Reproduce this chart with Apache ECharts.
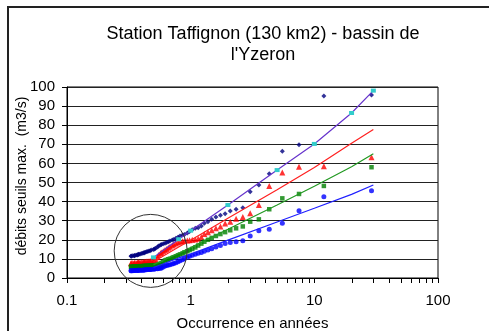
<!DOCTYPE html>
<html>
<head>
<meta charset="utf-8">
<script src="https://cdn.jsdelivr.net/npm/echarts@6/dist/echarts.min.js"></script>
<style>
  html, body { margin: 0; padding: 0; background: #fff; }
  #chart { width: 489px; height: 331px; }
</style>
</head>
<body>
<div id="chart"></div>
<script>
// Return periods (years) of the ranked annual maxima
const returnPeriods = [29.00, 11.94, 7.52, 5.51, 4.32, 3.56, 3.03, 2.64, 2.33, 2.09,
  1.90, 1.74, 1.60, 1.48, 1.38, 1.29, 1.22, 1.15, 1.09, 1.03,
  0.98, 0.94, 0.89, 0.86, 0.82, 0.79, 0.76, 0.73, 0.71, 0.68,
  0.66, 0.64, 0.62, 0.60, 0.58, 0.57, 0.55, 0.54, 0.52, 0.51,
  0.50, 0.48, 0.47, 0.46, 0.45, 0.44, 0.43, 0.42, 0.42, 0.41,
  0.40, 0.39, 0.38, 0.38, 0.37, 0.37, 0.36, 0.35, 0.35, 0.34,
  0.33, 0.33];

// Maximum discharges above threshold (m3/s), one list per duration
const navyValues = [95.8, 95.3, 69.8, 66.3, 54.6, 48.7, 45.2, 36.8, 36.0, 35.1,
  33.7, 32.8, 32.0, 30.7, 29.5, 28.6, 27.2, 26.3, 26.0, 25.2,
  24.4, 23.6, 22.8, 22.5, 22.0, 21.4, 20.8, 20.2, 19.9, 19.4,
  19.0, 18.6, 18.2, 17.9, 17.6, 17.3, 16.8, 16.2, 15.6, 15.2,
  14.9, 14.6, 14.3, 14.1, 13.9, 13.7, 13.5, 13.3, 13.1, 12.9,
  12.8, 12.6, 12.4, 12.3, 12.2, 12.0, 11.9, 11.8, 11.7, 11.6,
  11.5, 11.4];
const redValues = [63.2, 58.5, 58.2, 55.2, 48.2, 38.2, 33.9, 32.0, 31.0, 29.5,
  28.5, 27.0, 26.0, 25.0, 24.0, 23.0, 21.5, 20.5, 20.2, 20.0,
  19.8, 19.6, 19.4, 19.2, 19.0, 18.6, 18.1, 17.5, 17.0, 16.4,
  15.8, 15.2, 14.6, 14.0, 13.4, 12.9, 12.0, 10.8, 9.8, 9.3,
  9.1, 9.0, 8.9, 8.8, 8.7, 8.6, 8.5, 8.5, 8.4, 8.3,
  8.3, 8.2, 8.2, 8.1, 8.0, 8.0, 7.9, 7.9, 7.8, 7.8,
  7.7, 7.7];
const greenValues = [58.0, 48.2, 44.0, 41.7, 36.0, 30.7, 29.5, 27.0, 26.0, 25.0,
  24.0, 23.0, 22.0, 21.0, 20.0, 19.0, 18.0, 17.0, 16.0, 15.2,
  14.6, 14.0, 13.4, 12.8, 12.3, 11.8, 11.3, 10.9, 10.5, 10.1,
  9.8, 9.5, 9.2, 8.2, 7.2, 6.9, 6.8, 6.8, 6.7, 6.7,
  6.6, 6.6, 6.5, 6.5, 6.4, 6.4, 6.3, 6.3, 6.3, 6.2,
  6.2, 6.2, 6.1, 6.1, 6.1, 6.0, 6.0, 6.0, 6.0, 5.9,
  5.9, 5.9];
const blueValues = [45.7, 42.6, 35.2, 28.6, 25.5, 24.8, 22.0, 19.5, 19.0, 18.6,
  18.0, 17.0, 16.2, 15.3, 14.6, 14.0, 13.4, 12.9, 12.4, 11.9,
  11.4, 10.8, 10.2, 9.6, 9.0, 8.5, 8.0, 7.6, 7.3, 7.0,
  6.8, 6.6, 6.3, 5.8, 5.3, 5.1, 5.0, 4.9, 4.8, 4.7,
  4.6, 4.5, 4.5, 4.4, 4.4, 4.3, 4.3, 4.2, 4.2, 4.1,
  4.1, 4.1, 4.0, 4.0, 4.0, 3.9, 3.9, 3.9, 3.9, 3.8,
  3.8, 3.8];

// Fitted curves evaluated at selected return periods
const fitPeriods = [0.5, 0.8, 1, 2, 5, 10, 20, 30];
const fitPurple = [10.8, 20.3, 24.8, 38.2, 56.5, 70.2, 86.4, 98.1];
const fitRed = [8.5, 16.2, 19.8, 31.3, 46.2, 57.8, 70.5, 77.8];
const fitGreen = [7.0, 13.0, 16.0, 25.5, 38.2, 48.0, 58.2, 65.0];
const fitBlue = [5.5, 10.5, 12.5, 19.8, 29.3, 36.5, 43.8, 48.7];

// Axis ticks (x axis: every integer multiple within each decade)
const xTickValues = [0.1, 0.2, 0.3, 0.4, 0.5, 0.6, 0.7, 0.8, 0.9,
  1, 2, 3, 4, 5, 6, 7, 8, 9,
  10, 20, 30, 40, 50, 60, 70, 80, 90, 100];

// Encircled zone of frequent events: centre (years, m3/s) and radius (px)
const zoneCenter = [0.475, 14.2];
const zoneRadius = 36.5;

const pairs = (xs, ys) => xs.map((x, i) => [x, ys[i]]);

const font = 'Liberation Sans, Arial, sans-serif';
const chart = echarts.init(document.getElementById('chart'), null, { renderer: 'canvas' });

const frame = {
  type: 'rect', silent: true,
  shape: { x: 8, y: 7, width: 500, height: 360 },
  style: { fill: null, stroke: '#222', lineWidth: 2 }
};
const yName = {
  type: 'text', silent: true,
  x: 22, y: 176, rotation: Math.PI / 2,
  style: {
    text: 'débits seuils max.  (m3/s)',
    fontFamily: font, fontSize: 14, fill: '#000',
    align: 'center', verticalAlign: 'middle'
  }
};

const option = {
  animation: false,
  backgroundColor: '#fff',
  title: {
    text: "Station Taffignon (130 km2) - bassin de\nl'Yzeron",
    left: 258,
    top: 19,
    textAlign: 'center',
    textStyle: { fontFamily: font, fontSize: 18, fontWeight: 'normal', color: '#000', lineHeight: 21 }
  },
  grid: {
    left: 67, right: 51, top: 87, bottom: 53,
    outerBoundsMode: 'none',
    containLabel: false,
    show: true, borderColor: '#000', borderWidth: 1, backgroundColor: 'transparent'
  },
  xAxis: {
    type: 'log',
    logBase: 10,
    min: 0.1,
    max: 100,
    name: 'Occurrence en années',
    nameLocation: 'middle',
    nameGap: 38,
    nameTextStyle: { fontFamily: font, fontSize: 15, color: '#000' },
    axisLine: { show: true, lineStyle: { color: '#000', width: 1 } },
    axisTick: { show: false },
    axisLabel: {
      margin: 15,
      fontFamily: font, fontSize: 15, color: '#000',
      formatter: v => String(+Number(v).toPrecision(3))
    },
    splitLine: { show: false }
  },
  yAxis: {
    type: 'value',
    min: 0,
    max: 100,
    interval: 10,
    axisLine: { show: true, lineStyle: { color: '#000', width: 1 } },
    axisTick: { show: true, inside: false, length: 5, lineStyle: { color: '#000' } },
    axisLabel: { margin: 12, fontFamily: font, fontSize: 15, color: '#000' },
    splitLine: { show: true, lineStyle: { color: '#222', width: 1 } }
  },
  series: [
    {
      name: 'Qmax 1', type: 'scatter', data: pairs(returnPeriods, navyValues),
      symbol: 'diamond', symbolSize: 5, itemStyle: { color: '#000080' }, z: 3
    },
    {
      name: 'Qmax 2', type: 'scatter', data: pairs(returnPeriods, redValues),
      symbol: 'triangle', symbolSize: 6, itemStyle: { color: '#FF0000' }, z: 3
    },
    {
      name: 'Qmax 3', type: 'scatter', data: pairs(returnPeriods, greenValues),
      symbol: 'rect', symbolSize: 4.5, itemStyle: { color: '#008000' }, z: 3
    },
    {
      name: 'Qmax 4', type: 'scatter', data: pairs(returnPeriods, blueValues),
      symbol: 'circle', symbolSize: 5, itemStyle: { color: '#0000FF' }, z: 3
    },
    {
      name: 'Ajust. 1', type: 'line', data: pairs(fitPeriods, fitPurple),
      symbol: 'rect', symbolSize: [5, 4], showSymbol: true,
      itemStyle: { color: '#33CCCC', borderWidth: 0 },
      lineStyle: { color: '#6633CC', width: 1.2 }, z: 4
    },
    {
      name: 'Ajust. 2', type: 'line', data: pairs(fitPeriods, fitRed),
      showSymbol: false, lineStyle: { color: '#FF2020', width: 1.2 }, z: 4
    },
    {
      name: 'Ajust. 3', type: 'line', data: pairs(fitPeriods, fitGreen),
      showSymbol: false, lineStyle: { color: '#229922', width: 1.2 }, z: 4
    },
    {
      name: 'Ajust. 4', type: 'line', data: pairs(fitPeriods, fitBlue),
      showSymbol: false, lineStyle: { color: '#2020FF', width: 1.2 }, z: 4
    }
  ],
  graphic: [frame, yName]
};

chart.setOption(option);

// Tick marks below the log axis and the circle, placed through the axis scales
const tickElements = xTickValues.map(v => {
  const p = chart.convertToPixel({ gridIndex: 0 }, [v, 0]);
  return {
    type: 'rect', silent: true,
    shape: { x: Math.round(p[0]), y: Math.round(p[1]), width: 1, height: 5 },
    style: { fill: '#000' }
  };
});
const c = chart.convertToPixel({ gridIndex: 0 }, zoneCenter);
chart.setOption({
  graphic: [
    frame,
    yName,
    {
      type: 'circle', silent: true, z: 10,
      shape: { cx: c[0], cy: c[1], r: zoneRadius },
      style: { fill: null, stroke: '#333', lineWidth: 1 }
    },
    {
      type: 'group', silent: true,
      children: tickElements
    }
  ]
});
</script>
</body>
</html>
